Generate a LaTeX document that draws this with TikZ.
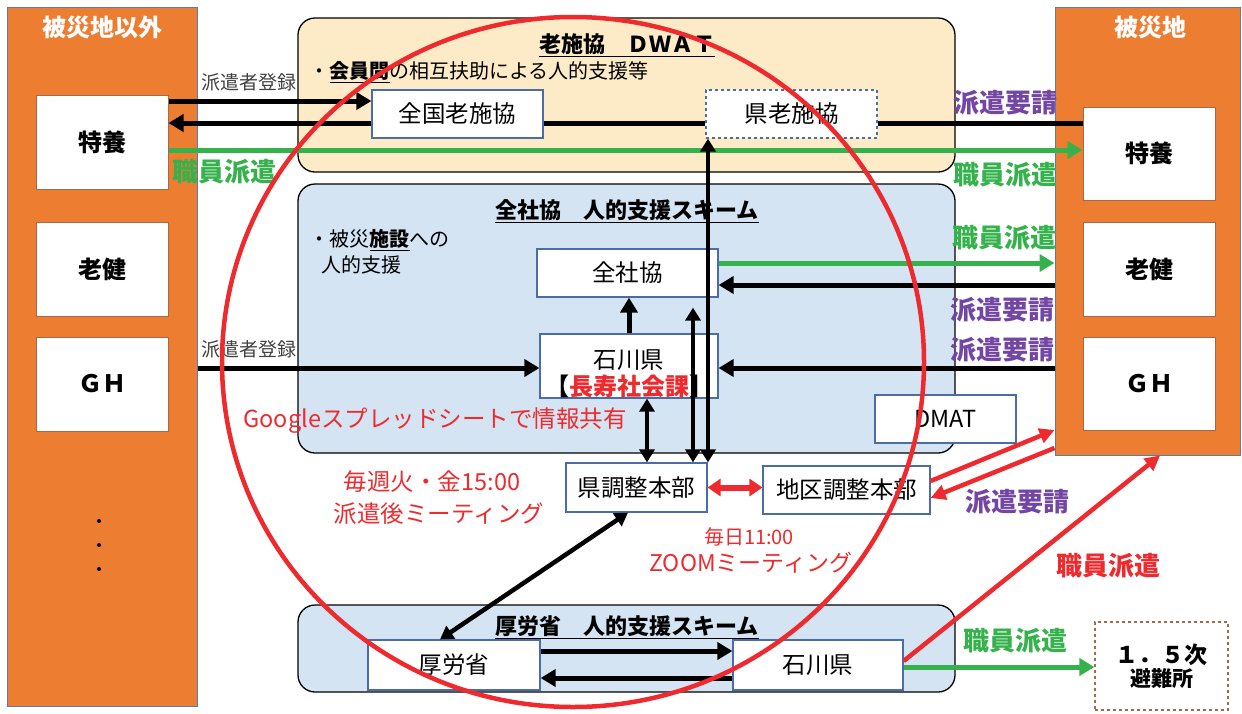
\documentclass[tikz,border=0pt]{standalone}
\usepackage{fontspec}
\setmainfont{Noto Sans CJK JP}
\usetikzlibrary{arrows.meta}
\definecolor{orng}{HTML}{ED7D31}
\definecolor{colline}{HTML}{5B7BB0}
\definecolor{peach}{HTML}{FDEBC8}
\definecolor{lblue}{HTML}{D4E4F3}
\definecolor{bblue}{HTML}{4A6DA8}
\definecolor{brn}{HTML}{A5694A}
\definecolor{grn}{HTML}{35B24C}
\definecolor{purp}{HTML}{7346A3}
\definecolor{rd}{HTML}{EE2A2E}
\definecolor{gry}{HTML}{404040}
\newcommand\fsz[1]{\fontsize{#1}{#1}\selectfont}
\tikzset{
  colbox/.style={draw=colline, fill=orng, line width=1pt},
  coltitle/.style={text=white, font=\bfseries\fsz{24}},
  obox/.style={draw=brn, fill=white, line width=1pt, minimum width=132pt, minimum height=94pt, font=\bfseries\fsz{24}},
  grp/.style={draw=black, line width=1.3pt, rounded corners=17pt, minimum width=657pt},
  gtitle/.style={font=\bfseries\fsz{22}},
  wbox/.style={draw=bblue, fill=white, line width=1.2pt, font=\fsz{23.5}, inner sep=0pt},
  note/.style={font=\fsz{20}, anchor=west},
  small/.style={font=\fsz{19}, text=gry},
  plab/.style={font=\bfseries\fsz{26}, text=purp},
  glab/.style={font=\bfseries\fsz{26}, text=grn},
  rlab/.style={font=\fsz{23.5}, text=rd},
  blk/.style={line width=5pt, -{Triangle[length=15pt,width=17pt]}},
  blkn/.style={line width=5pt},
  blkd/.style={line width=4.5pt, {Triangle[length=13pt,width=15pt]}-{Triangle[length=13pt,width=15pt]}},
  grnarr/.style={draw=grn, line width=5pt, -{Triangle[length=15pt,width=17pt]}},
  redarr/.style={draw=rd, line width=4.5pt, -{Triangle[length=15pt,width=15pt]}},
  redd/.style={draw=rd, line width=6pt, {Triangle[length=13pt,width=17pt]}-{Triangle[length=13pt,width=17pt]}},
}
\begin{document}
\begin{tikzpicture}[x=1pt,y=-1pt]
\useasboundingbox (0,0) rectangle (1242,713);
% columns
\node[colbox, minimum width=190pt, minimum height=699pt] (lcol) at (102,356.5) {};
\node[coltitle] (lcolt) at (102,27) {被災地以外};
\node[colbox, minimum width=185pt, minimum height=448pt] (rcol) at (1147.5,231) {};
\node[coltitle] (rcolt) at (1150,27) {被災地};
\node[obox] (lt) at (102,142) {特養};
\node[obox] (lr) at (102,269) {老健};
\node[obox] (lg) at (102,384) {ＧＨ};
\fill (99,521) circle (2pt) (99,545) circle (2pt) (99,569) circle (2pt);
\node[obox, minimum height=93pt] (rt) at (1149,153.5) {特養};
\node[obox] (rr) at (1149,269) {老健};
\node[obox, minimum height=93pt] (rg) at (1149,383.5) {ＧＨ};
% groups
\node[grp, fill=peach, minimum height=154pt] (g1) at (626.5,95) {};
\node[gtitle] (g1t) at (627,45) {\underline{老施協　ＤＷＡＴ}};
\node[note] (g1n) at (306,72) {・\underline{\textbf{会員間}}の相互扶助による人的支援等};
\node[grp, fill=lblue, minimum height=269pt] (g2) at (626.5,318.5) {};
\node[gtitle] (g2t) at (627,211) {\underline{全社協　人的支援スキーム}};
\node[note] (g2n) at (306,240) {・被災\underline{\textbf{施設}}への};
\node[note] (g2n2) at (318,265) {人的支援};
\node[grp, fill=lblue, minimum height=87pt] (g3) at (626.5,648.5) {};
\node[gtitle] (g3t) at (627,627) {\underline{厚労省　人的支援スキーム}};
% boxes
\node[wbox, minimum width=171pt, minimum height=48pt] (zenkoku) at (457.5,114) {全国老施協};
\node[wbox, dashed, minimum width=171pt, minimum height=48pt] (kenro) at (791.5,114) {県老施協};
\node[wbox, minimum width=181pt, minimum height=48pt] (zensha) at (627.5,273) {全社協};
\node[wbox, minimum width=178pt, minimum height=64pt] (ishi1) at (629,366) {};
\node[font=\fsz{23.5}] (ishi1a) at (629,360) {石川県};
\node[font=\bfseries\fsz{24}] (ishi1b) at (629,386) {【\textcolor{rd}{長寿社会課}】};
\node[wbox, minimum width=141pt, minimum height=48pt] (dmat) at (945.5,419) {DMAT};
\node[wbox, minimum width=141pt, minimum height=49pt] (kench) at (636.5,487.5) {県調整本部};
\node[wbox, minimum width=167pt, minimum height=48pt] (chiku) at (846.5,490) {地区調整本部};
\node[wbox, minimum width=172pt, minimum height=50pt] (kourou) at (454,665) {厚労省};
\node[wbox, minimum width=170pt, minimum height=50pt] (ishi2) at (818,665) {石川県};
\node[draw=brn, dashed, fill=white, line width=1.2pt, minimum width=133pt, minimum height=88pt, align=center, font=\bfseries\fsz{23}] (hinan) at (1161.5,666) {１．５次\\[0pt]{\fsz{21}避難所}};
% connectors top
\draw[blk] (lt.east |- 0,101) -- (zenkoku.west |- 0,101);
\draw[blk] (zenkoku.west |- 0,123) -- (lt.east |- 0,123);
\draw[blkn] (zenkoku.east |- 0,123) -- (kenro.west |- 0,123);
\draw[blkn] (rt.west |- 0,123) -- (kenro.east |- 0,123);
\draw[grnarr] (lt.east |- 0,150) -- (rt.west |- 0,150);
\node[small] (l1) at (249,82) {派遣者登録};
\node[plab] (l2) at (1005,103) {派遣要請};
\node[glab] (l3) at (224,172) {職員派遣};
\node[glab] (l4) at (1005,175) {職員派遣};
% middle connectors
\draw[blk] (ishi1.north) -- (zensha.south -| ishi1.north);
\draw[blkd] (kenro.south -| 708,0) -- (kench.north -| 708,0);
\draw[blkd, shorten <=10pt] (zensha.south -| 693,0) -- (kench.north -| 693,0);
\draw[blkd] (ishi1.south -| 647,0) -- (kench.north -| 647,0);
\draw[grnarr] (zensha.east |- 0,263) -- (rcol.west |- 0,263);
\draw[blk] (rcol.west |- 0,285) -- (zensha.east |- 0,285);
\draw[blk] (rcol.west |- 0,368) -- (ishi1.east |- 0,368);
\draw[blk] (lcol.east |- 0,368) -- (ishi1.west |- 0,368);
\node[glab] (l5) at (1004,238) {職員派遣};
\node[plab] (l6) at (1002,310) {派遣要請};
\node[plab] (l7) at (1002,350) {派遣要請};
\node[small] (l8) at (249,349) {派遣者登録};
\node[rlab] (l9) at (435,421) {Googleスプレッドシートで情報共有};
% lower connectors
\draw[redd] (kench.east) -- (chiku.west |- kench.east);
\draw[redarr] (chiku.east |- 0,481) -- (rcol.west |- 0,430);
\draw[redarr] (rcol.west |- 0,448) -- (chiku.east |- 0,498);
\draw[redarr] (ishi2.east |- 0,661) -- (rcol.south -| 1160,0);
\draw[blkd] (kench.south -| 628,0) -- (kourou.north -| 440,0);
\draw[blk] (kourou.east |- 0,651) -- (ishi2.west |- 0,651);
\draw[blk] (ishi2.west |- 0,678) -- (kourou.east |- 0,678);
\draw[grnarr] (ishi2.east |- 0,667) -- (hinan.west |- 0,667);
\node[rlab] (l10) at (432,482) {毎週火・金15:00};
\node[rlab] (l11) at (439,514) {派遣後ミーティング};
\node[rlab, font=\fsz{20}] (l12) at (749,537) {毎日11:00};
\node[rlab, font=\fsz{23}] (l13) at (751,563) {ZOOMミーティング};
\node[plab] (l14) at (1017,502) {派遣要請};
\node[font=\bfseries\fsz{26}, text=rd] (l15) at (1108,566) {職員派遣};
\node[glab] (l16) at (1015,641) {職員派遣};
% red ellipse
\draw[rd, line width=4.5pt] (573,362) ellipse [x radius=351pt, y radius=345pt];
\end{tikzpicture}
\end{document}
